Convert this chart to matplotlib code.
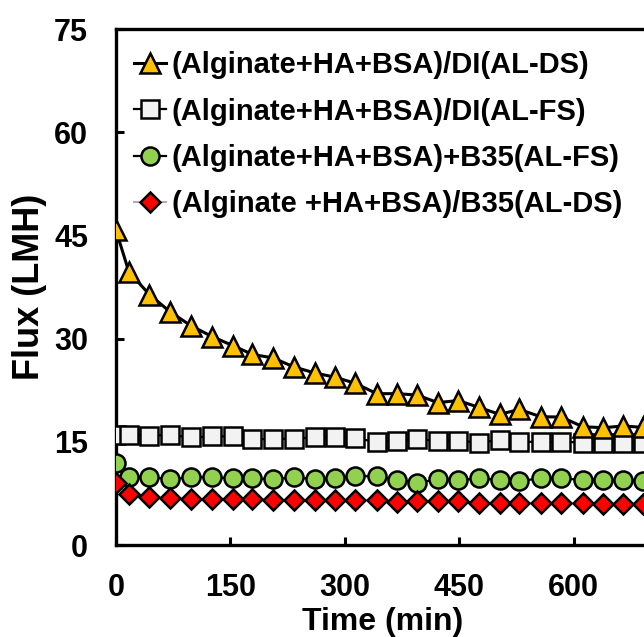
import matplotlib.pyplot as plt

plt.rcParams['font.family'] = ['Liberation Sans', 'DejaVu Sans']
plt.rcParams['font.weight'] = 'bold'

# sampling times (min)
time_min = [0, 17, 44, 71, 98, 126, 153, 179, 206, 233, 261, 287, 314, 342,
            369, 395, 422, 449, 476, 503, 529, 557, 584, 612, 639, 665, 691]

# flux (LMH) for each run
al_ds_di = [45.8, 39.7, 36.4, 33.9, 31.9, 30.3, 29.0, 27.7, 27.2, 25.9, 25.0,
            24.4, 23.5, 22.0, 22.0, 21.8, 20.7, 21.0, 20.0, 19.0, 19.7, 18.65,
            18.6, 17.2, 17.05, 17.3, 17.1]
al_fs_di = [16.0, 16.0, 15.9, 16.0, 15.65, 15.8, 15.8, 15.35, 15.45, 15.45, 15.65,
            15.7, 15.5, 15.0, 15.15, 15.4, 15.15, 15.15, 14.9, 15.25, 15.0, 15.0,
            15.0, 14.9, 14.9, 14.9, 14.9]
al_fs_b35 = [11.95, 9.85, 9.9, 9.55, 9.85, 9.85, 9.7, 9.7, 9.55, 9.85, 9.55, 9.7,
             10.0, 10.0, 9.45, 9.05, 9.55, 9.45, 9.7, 9.45, 9.3, 9.7, 9.7, 9.45,
             9.45, 9.45, 9.35]
al_ds_b35 = [8.95, 7.4, 6.95, 6.8, 6.7, 6.7, 6.7, 6.65, 6.55, 6.55, 6.55, 6.55,
             6.55, 6.55, 6.3, 6.4, 6.4, 6.35, 6.15, 6.05, 6.15, 6.05, 6.05, 6.05,
             5.95, 5.95, 5.95]

labels = ['(Alginate+HA+BSA)/DI(AL-DS)',
          '(Alginate+HA+BSA)/DI(AL-FS)',
          '(Alginate+HA+BSA)+B35(AL-FS)',
          '(Alginate +HA+BSA)/B35(AL-DS)']

fig = plt.figure(figsize=(6.44, 6.37), dpi=100)
ax = fig.add_axes([0.180, 0.1444, 0.829, 0.810])

ax.plot(time_min, al_ds_di, color='black', lw=2.2, marker='^', ms=15,
        mfc='#FFC000', mec='black', mew=1.8, label=labels[0], zorder=4)
ax.plot(time_min, al_fs_di, color='black', lw=1.6, marker='s', ms=13.5,
        mfc='#F2F2F2', mec='black', mew=1.8, label=labels[1], zorder=3)
ax.plot(time_min, al_fs_b35, color='black', lw=1.6, marker='o', ms=13,
        mfc='#92D050', mec='black', mew=1.8, label=labels[2], zorder=3)
ax.plot(time_min, al_ds_b35, color='#B3A2C7', lw=1.4, marker='D', ms=10,
        mfc='#FF0000', mec='black', mew=1.8, label=labels[3], zorder=3)

ax.set_xlim(0, 700)
ax.set_ylim(0, 75)
ax.set_xticks([0, 150, 300, 450, 600])
ax.set_yticks([0, 15, 30, 45, 60, 75])

for side in ['left', 'bottom', 'top', 'right']:
    ax.spines[side].set_linewidth(2.4)
ax.tick_params(direction='in', length=6, width=2.2, labelsize=22, pad=20)

ax.set_xlabel('Time (min)', fontsize=23, fontweight='bold', labelpad=3)
ax.set_ylabel('Flux (LMH)', fontsize=26, fontweight='bold')
ax.yaxis.set_label_coords(-0.13, 0.5)

ax.legend(loc='upper left', bbox_to_anchor=(0.034, 0.957), frameon=False,
          fontsize=21, handlelength=1.1, handletextpad=0.2,
          labelspacing=0.63, borderpad=0, borderaxespad=0)

fig.savefig('out.png', dpi=100)
